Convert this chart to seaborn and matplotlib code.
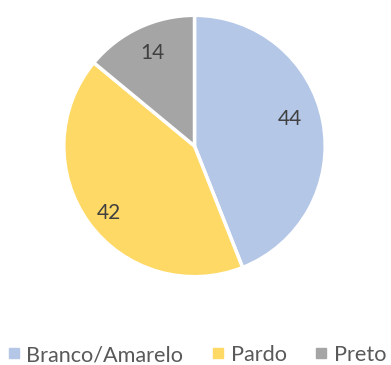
import matplotlib
matplotlib.use("Agg")
import numpy as np
import matplotlib.pyplot as plt
import seaborn as sns
from matplotlib.lines import Line2D

categories = ["Branco/Amarelo", "Pardo", "Preto"]
values = [44, 42, 14]
colors = ["#B4C7E7", "#FFD966", "#A5A5A5"]

sns.set_theme(style="white")
plt.rcParams["font.family"] = ["Lato", "DejaVu Sans"]

fig = plt.figure(figsize=(3.91, 3.65), dpi=100)
# pie area in figure coordinates
ax = fig.add_axes([(194.5 - 132) / 391, 1 - (146 + 132) / 365, 264 / 391, 264 / 365])

wedges, texts, autotexts = ax.pie(
    values,
    colors=sns.color_palette(colors),
    startangle=90,
    counterclock=False,
    autopct=lambda p: f"{p:.0f}",
    pctdistance=0.78,
    wedgeprops=dict(edgecolor="white", linewidth=2.5),
    textprops=dict(color="#404040", fontsize=15),
)

# best-fit style placement of the value labels inside each wedge
label_radius = [0.76, 0.83, 0.78]
label_turn = [5.0, 2.0, -1.0]
for w, t, r, d in zip(wedges, autotexts, label_radius, label_turn):
    ang = np.deg2rad((w.theta1 + w.theta2) / 2 + d)
    t.set_position((r * np.cos(ang), r * np.sin(ang)))

ax.set_xlim(-1.01, 1.01)
ax.set_ylim(-1.01, 1.01)
ax.set_aspect("equal")

handles = [Line2D([0], [0], marker="s", linestyle="none", markersize=6.5,
                  markerfacecolor=c, markeredgecolor=c) for c in colors]
fig.legend(handles, categories, loc="center", bbox_to_anchor=(0.505, 1 - 355 / 365),
           ncol=3, frameon=False, fontsize=15.6, handletextpad=0.33,
           columnspacing=1.35, handlelength=0.5, labelcolor="#595959")

fig.savefig("out.png", dpi=100)
